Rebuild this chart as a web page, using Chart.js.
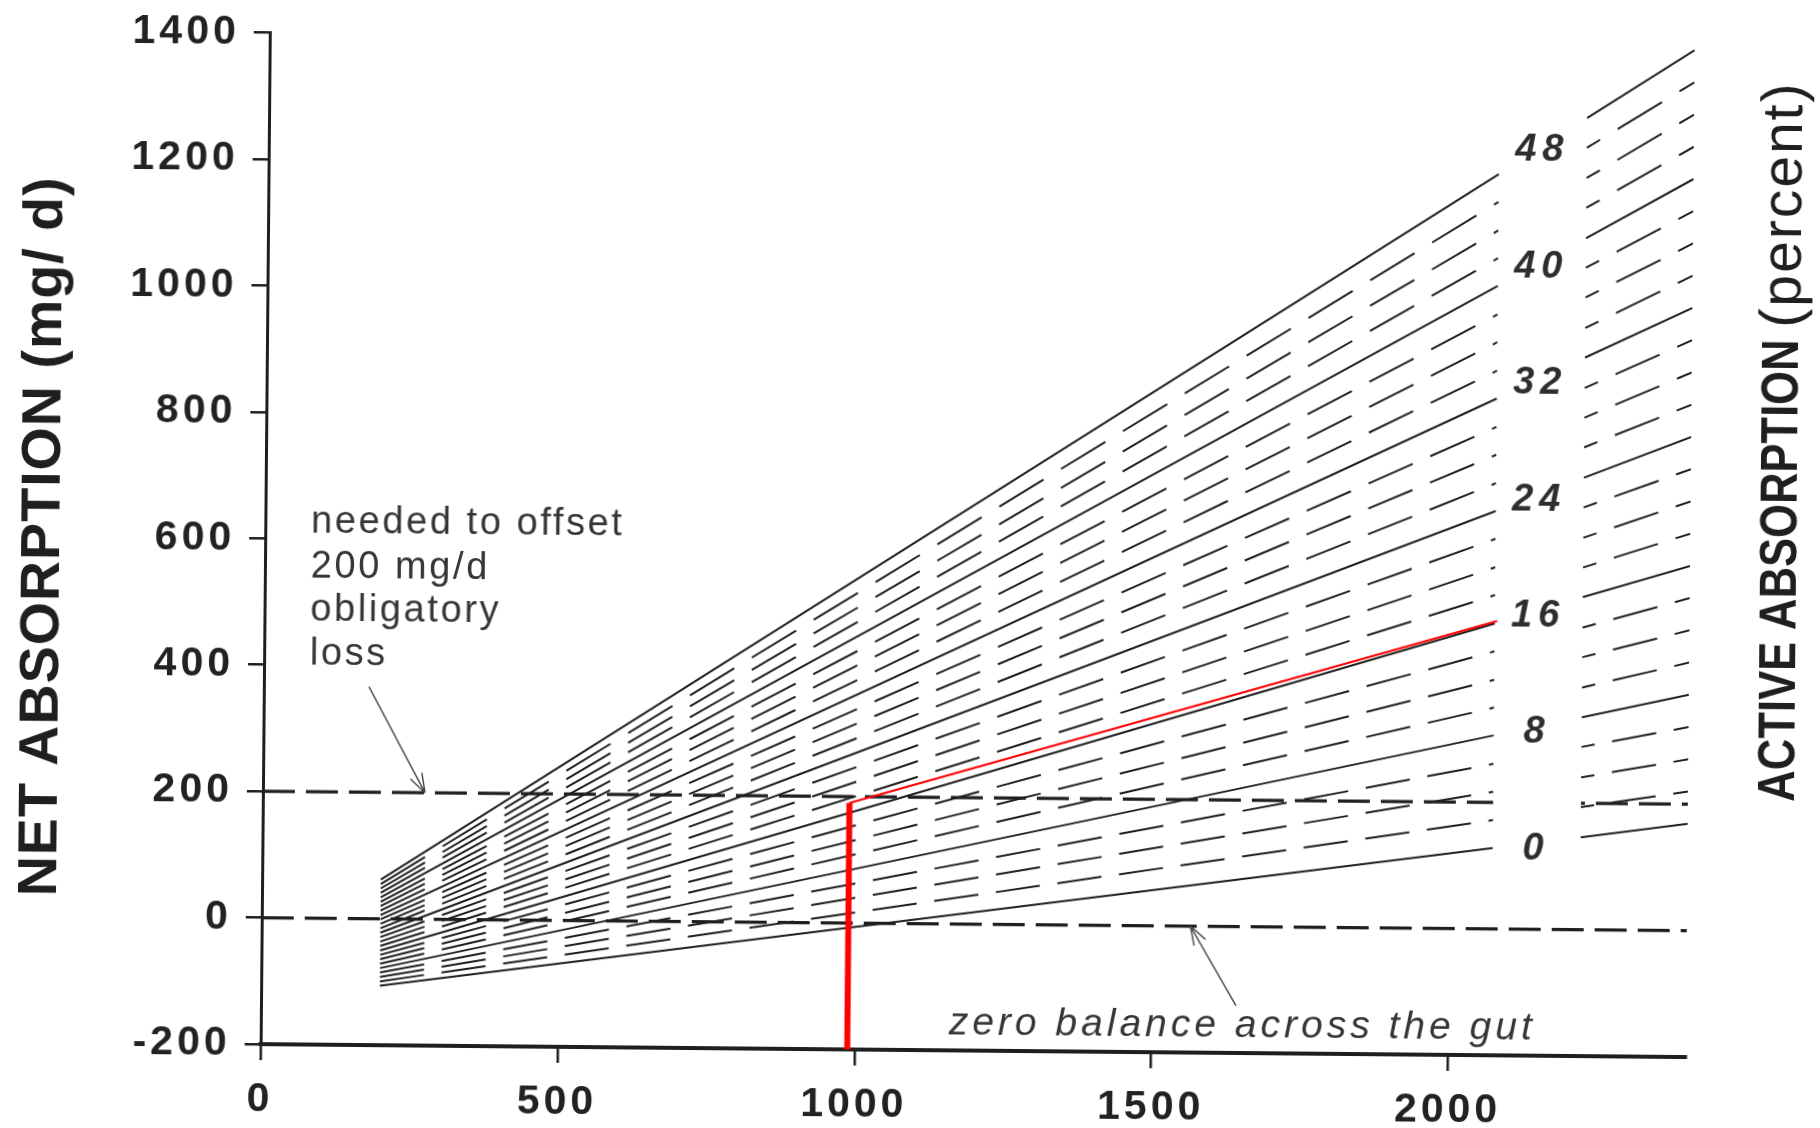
<!DOCTYPE html>
<html>
<head>
<meta charset="utf-8">
<title>Net absorption nomogram</title>
<script src="https://cdn.jsdelivr.net/npm/chart.js@4/dist/chart.umd.min.js"></script>
<style>
  html, body { margin: 0; padding: 0; background: #ffffff; overflow: hidden; }
  #wrap { width: 1820px; height: 1128px; }
  /* the printed figure sits very slightly tilted on the page */
  #nomogram { display: block; transform: rotate(0.52deg); transform-origin: 910px 564px; }
</style>
</head>
<body>
<div id="wrap"><canvas id="nomogram" width="1820" height="1128"></canvas></div>
<script>
// ---- data -------------------------------------------------------------
// active absorption, percent (one line each)
const activePct = [0, 2, 4, 6, 8, 10, 12, 14, 16, 18, 20, 22, 24, 26, 28, 30, 32, 34, 36, 38, 40, 42, 44, 46, 48];

// intake (mg/d) where each line starts and ends, and where the short right-hand piece runs
const lineIntake = [200, 2072, 2220, 2400];
const gapIntake = 2146;

// net absorption (mg/d) of every line at those intakes
const netAtStart = [-106, -99, -92, -85, -78, -71, -64, -57, -50, -43, -36, -29, -22, -15, -8, -1, 6, 13, 20, 27, 34, 41, 48, 55, 62];
const netAtEnd = [128, 172, 217, 261, 306, 350, 394, 439, 483, 528, 572, 617, 661, 705, 750, 794, 839, 883, 928, 972, 1017, 1061, 1105, 1150, 1194];
const netAtPieceStart = [146, 194, 241, 289, 336, 383, 431, 478, 526, 573, 620, 668, 715, 763, 810, 857, 905, 952, 1000, 1047, 1094, 1142, 1189, 1237, 1284];
const netAtPieceEnd = [169, 220, 271, 322, 373, 424, 475, 526, 577, 628, 679, 730, 781, 832, 883, 934, 985, 1036, 1087, 1138, 1189, 1240, 1291, 1342, 1393];

// reference levels: zero balance and the 200 mg/d obligatory loss
const zeroBalance = 0;
const obligatoryLoss = 200;

// worked example: intake of about 1000 mg/d reaching 200 mg/d, followed out to the 16 % line
const exampleIntake = [988, 988, 2076];
const exampleNet = [-200, 190, 487];

// axis ticks
const xTickValues = [0, 500, 1000, 1500, 2000];
const xTickLabels = ['0', '500', '1000', '1500', '2000'];
const yTickValues = [-200, 0, 200, 400, 600, 800, 1000, 1200, 1400];
const yTickLabels = ['-200', '0', '200', '400', '600', '800', '1000', '1200', '1400'];

// percent labels written beside the line ends
const pctLabels = ['0', '8', '16', '24', '32', '40', '48'];
const pctLabelNet = [127, 312, 495, 678, 864, 1047, 1233];
const pctLabelIntake = 2145;

// ---- styling ------------------------------------------------------------
const ink = '#1f1f1f';
const red = '#ff0000';
const family = '"Liberation Sans", Arial, Helvetica, sans-serif';
const DASH = 44, GAP = 17.5;          // dash pattern of the fine lines, measured along x
const REF_DASH = 32, REF_GAP = 11;    // dash pattern of the reference levels

// stretch the dash along a sloped segment so the gaps line up in vertical columns,
// and carry the phase across the break in the line
function slopeFactor(ctx) {
  const dx = ctx.p1.x - ctx.p0.x, dy = ctx.p1.y - ctx.p0.y;
  return dx === 0 ? 1 : Math.hypot(dx, dy) / Math.abs(dx);
}
function columnDash(dash, gap, originIntake) {
  return {
    borderDash: ctx => { const f = slopeFactor(ctx); return [dash * f, gap * f]; },
    borderDashOffset: ctx => {
      const x0 = ctx.chart.scales.x.getPixelForValue(originIntake);
      return (ctx.p0.x - x0) * slopeFactor(ctx);
    }
  };
}

const datasets = [];

// worked example in red, on top
datasets.push({
  data: [{ x: exampleIntake[0], y: exampleNet[0] }, { x: exampleIntake[1], y: exampleNet[1] }],
  borderColor: red, borderWidth: 6, order: 0
});
datasets.push({
  data: [{ x: exampleIntake[1], y: exampleNet[1] }, { x: exampleIntake[2], y: exampleNet[2] }],
  borderColor: red, borderWidth: 2.2, order: 0
});

// reference levels
datasets.push({
  data: [{ x: 0, y: zeroBalance }, { x: 2400, y: zeroBalance }],
  borderColor: ink, borderWidth: 3.4, borderDash: [REF_DASH, REF_GAP], order: 1
});
datasets.push({
  data: [
    { x: 0, y: obligatoryLoss }, { x: lineIntake[1], y: obligatoryLoss },
    { x: gapIntake, y: null },
    { x: lineIntake[2], y: obligatoryLoss }, { x: lineIntake[3], y: obligatoryLoss }
  ],
  borderColor: ink, borderWidth: 3.4, order: 1,
  segment: columnDash(REF_DASH, REF_GAP, 0)
});

// one line per active-absorption percentage; every 8 % is drawn solid
activePct.forEach((p, i) => {
  const ds = {
    data: [
      { x: lineIntake[0], y: netAtStart[i] },
      { x: lineIntake[1], y: netAtEnd[i] },
      { x: gapIntake, y: null },
      { x: lineIntake[2], y: netAtPieceStart[i] },
      { x: lineIntake[3], y: netAtPieceEnd[i] }
    ],
    borderColor: ink, borderWidth: 2, order: 2
  };
  if (p % 8 !== 0) ds.segment = columnDash(DASH, GAP, lineIntake[0]);
  datasets.push(ds);
});

// ---- annotations ----------------------------------------------------------
function drawText(ctx, text, px, py, o) {
  ctx.save();
  ctx.font = o.font;
  ctx.letterSpacing = o.spacing || '0px';
  ctx.fillStyle = o.color || ink;
  ctx.textAlign = o.align || 'left';
  ctx.textBaseline = 'middle';
  ctx.translate(px, py);
  if (o.rotate) ctx.rotate(o.rotate);
  if (o.maxWidth) ctx.fillText(text, 0, 0, o.maxWidth); else ctx.fillText(text, 0, 0);
  ctx.restore();
}
// a vertical title read upwards, made of pieces set in different fonts;
// a piece with a length is squeezed to that length
function drawPiecedTitle(ctx, pieces, gap, px, py) {
  ctx.save();
  ctx.translate(px, py);
  ctx.rotate(-Math.PI / 2);
  ctx.textBaseline = 'middle';
  ctx.textAlign = 'left';
  ctx.fillStyle = ink;
  const lengths = pieces.map(pc => {
    ctx.font = pc.font;
    ctx.letterSpacing = pc.spacing || '0px';
    const w = ctx.measureText(pc.text).width;
    return pc.length ? Math.min(pc.length, w) : w;
  });
  const total = lengths.reduce((a, b) => a + b, 0) + gap * (pieces.length - 1);
  let cx = -total / 2;
  pieces.forEach((pc, i) => {
    ctx.font = pc.font;
    ctx.letterSpacing = pc.spacing || '0px';
    ctx.fillText(pc.text, cx, 0, lengths[i]);
    cx += lengths[i] + gap;
  });
  ctx.restore();
}
function drawArrow(ctx, x1, y1, x2, y2) {
  const a = Math.atan2(y2 - y1, x2 - x1);
  ctx.beginPath();
  ctx.moveTo(x1, y1);
  ctx.lineTo(x2, y2);
  for (const s of [-1, 1]) {
    ctx.moveTo(x2, y2);
    ctx.lineTo(x2 - 20 * Math.cos(a + s * 0.33), y2 - 20 * Math.sin(a + s * 0.33));
  }
  ctx.stroke();
}

const offsetNote = ['needed to offset', '200 mg/d', 'obligatory', 'loss'];
const offsetNoteIntake = 77;
const offsetNoteNet = [626, 556, 487, 417];
const offsetArrow = { from: [177, 367], to: [273, 200] };
const zeroNote = 'zero balance across the gut';
const zeroNoteAt = [1653, -157];
const zeroArrow = { from: [1642, -125], to: [1564, 0] };

const notes = {
  id: 'notes',
  beforeDraw(chart) {
    // widely set tick figures
    chart.ctx.letterSpacing = '4px';
  },
  afterDraw(chart) {
    const { ctx, chartArea: area } = chart;
    const x = chart.scales.x, y = chart.scales.y;
    ctx.save();
    ctx.letterSpacing = '0px';

    // axis titles
    drawText(ctx, 'NET ABSORPTION (mg/ d)', area.left - 221, (area.top + area.bottom) / 2, {
      font: 'bold 56px ' + family, align: 'center', rotate: -Math.PI / 2, maxWidth: 720, spacing: '1px'
    });
    drawPiecedTitle(ctx, [
      { text: 'ACTIVE ABSORPTION', font: 'bold 52px ' + family, length: 462 },
      { text: '(percent)', font: '57px ' + family, spacing: '2px' }
    ], 12, area.right + 92, area.top + 395);

    // percent scale beside the line ends
    pctLabels.forEach((t, i) => {
      drawText(ctx, t, x.getPixelForValue(pctLabelIntake), y.getPixelForValue(pctLabelNet[i]), {
        font: 'italic bold 38px ' + family, align: 'center', spacing: '6px', color: '#2e2e2e'
      });
    });

    // obligatory-loss note
    offsetNote.forEach((t, i) => {
      drawText(ctx, t, x.getPixelForValue(offsetNoteIntake), y.getPixelForValue(offsetNoteNet[i]), {
        font: '38px ' + family, spacing: '2.6px', color: '#363636'
      });
    });
    drawText(ctx, zeroNote, x.getPixelForValue(zeroNoteAt[0]), y.getPixelForValue(zeroNoteAt[1]), {
      font: 'italic 39px ' + family, align: 'center', spacing: '4px', color: '#363636'
    });

    ctx.strokeStyle = '#444';
    ctx.lineWidth = 1.4;
    ctx.setLineDash([]);
    drawArrow(ctx,
      x.getPixelForValue(offsetArrow.from[0]), y.getPixelForValue(offsetArrow.from[1]),
      x.getPixelForValue(offsetArrow.to[0]), y.getPixelForValue(offsetArrow.to[1]));
    drawArrow(ctx,
      x.getPixelForValue(zeroArrow.from[0]), y.getPixelForValue(zeroArrow.from[1]),
      x.getPixelForValue(zeroArrow.to[0]), y.getPixelForValue(zeroArrow.to[1]));
    ctx.restore();
  }
};

const tickFont = { family: family, size: 41, weight: 'bold' };

new Chart(document.getElementById('nomogram'), {
  type: 'line',
  data: { datasets },
  options: {
    responsive: false,
    animation: false,
    devicePixelRatio: 1,
    layout: { padding: { left: 0, right: 130, top: 35, bottom: 0 } },
    plugins: { legend: { display: false }, tooltip: { enabled: false }, title: { display: false } },
    elements: { point: { radius: 0, hoverRadius: 0 }, line: { tension: 0, fill: false, borderCapStyle: 'butt' } },
    scales: {
      x: {
        type: 'linear', min: 0, max: 2400,
        afterBuildTicks: s => { s.ticks = xTickValues.map(v => ({ value: v })); },
        afterFit: s => { s.height = 78; },
        grid: { drawOnChartArea: false, drawTicks: true, tickLength: 16, color: ink, lineWidth: 2.5 },
        border: { display: true, color: ink, width: 4 },
        ticks: {
          font: tickFont, color: '#222', padding: 15, maxRotation: 0, autoSkip: false,
          callback: (v, i) => xTickLabels[i]
        }
      },
      y: {
        type: 'linear', min: -200, max: 1400,
        afterBuildTicks: s => { s.ticks = yTickValues.map(v => ({ value: v })); },
        afterFit: s => { s.width = 265; },
        grid: { drawOnChartArea: false, drawTicks: true, tickLength: 16, color: ink, lineWidth: 2.5 },
        border: { display: true, color: ink, width: 3 },
        ticks: {
          font: tickFont, color: '#222', padding: 14, autoSkip: false,
          callback: (v, i) => yTickLabels[i]
        }
      }
    }
  },
  plugins: [notes]
});
</script>
</body>
</html>
